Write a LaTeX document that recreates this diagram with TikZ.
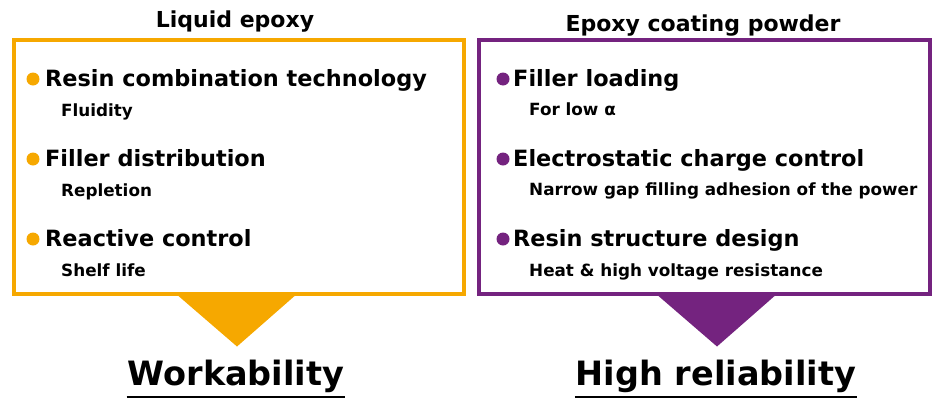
\documentclass[tikz,border=0pt]{standalone}
\usepackage{fontspec}
\setmainfont{DejaVu Sans}
\usetikzlibrary{positioning}
\definecolor{epoxyorange}{HTML}{F6A800}
\definecolor{epoxypurple}{HTML}{74237F}

\begin{document}
\begin{tikzpicture}[
  x=1pt, y=-1pt,
  panel/.style={draw, line width=3.2pt, minimum width=450pt, minimum height=254pt, inner sep=0pt},
  heading/.style={font=\fontsize{22}{25}\selectfont\bfseries, anchor=base, inner sep=0pt},
  item/.style={font=\fontsize{22.4}{26}\selectfont\bfseries, anchor=base west, inner sep=0pt},
  sub/.style={font=\fontsize{16.8}{20}\selectfont\bfseries, anchor=base west, inner sep=0pt},
  ldot/.style={circle, inner sep=0pt, minimum size=13pt},
  result/.style={font=\fontsize{33.5}{38}\selectfont\bfseries, anchor=base, inner sep=1pt},
  uline/.style={line width=2pt}
]
\useasboundingbox (0,0) rectangle (940,410);

% left panel
\node[panel, draw=epoxyorange] (lbox) at (239,167) {};
\node[heading] (ltitle) at (235,27) {Liquid epoxy};
\node[ldot, fill=epoxyorange] (ld1) at (33,79) {};
\node[item] (li1) at (45,86) {Resin combination technology};
\node[sub] (ls1) at (61,116) {Fluidity};
\node[ldot, fill=epoxyorange] (ld2) at (33,159) {};
\node[item] (li2) at (45,166) {Filler distribution};
\node[sub] (ls2) at (61,196) {Repletion};
\node[ldot, fill=epoxyorange] (ld3) at (33,239) {};
\node[item] (li3) at (45,246) {Reactive control};
\node[sub] (ls3) at (61,276) {Shelf life};
\fill[epoxyorange] (175,293) -- (298,293) -- (237,346.5) -- cycle;
\node[result] (work) at (236,385) {Workability};
\draw[uline] ([yshift=-3.5pt]work.south west) -- ([yshift=-3.5pt]work.south east);

% right panel
\node[panel, draw=epoxypurple, minimum width=451pt] (rbox) at (704.5,167) {};
\node[heading] (rtitle) at (703,31) {Epoxy coating powder};
\node[ldot, fill=epoxypurple] (rd1) at (503,79) {};
\node[item] (ri1) at (513,86) {Filler loading};
\node[sub] (rs1) at (529,115) {For low α};
\node[ldot, fill=epoxypurple] (rd2) at (503,159) {};
\node[item] (ri2) at (513,166) {Electrostatic charge control};
\node[sub] (rs2) at (529,195) {Narrow gap filling adhesion of the power};
\node[ldot, fill=epoxypurple] (rd3) at (503,239) {};
\node[item] (ri3) at (513,246) {Resin structure design};
\node[sub] (rs3) at (529,276) {Heat \& high voltage resistance};
\fill[epoxypurple] (655,293) -- (778,293) -- (717,346.5) -- cycle;
\node[result] (rel) at (716,385) {High reliability};
\draw[uline] ([yshift=-3.5pt]rel.south west) -- ([yshift=-3.5pt]rel.south east);
\end{tikzpicture}
\end{document}
